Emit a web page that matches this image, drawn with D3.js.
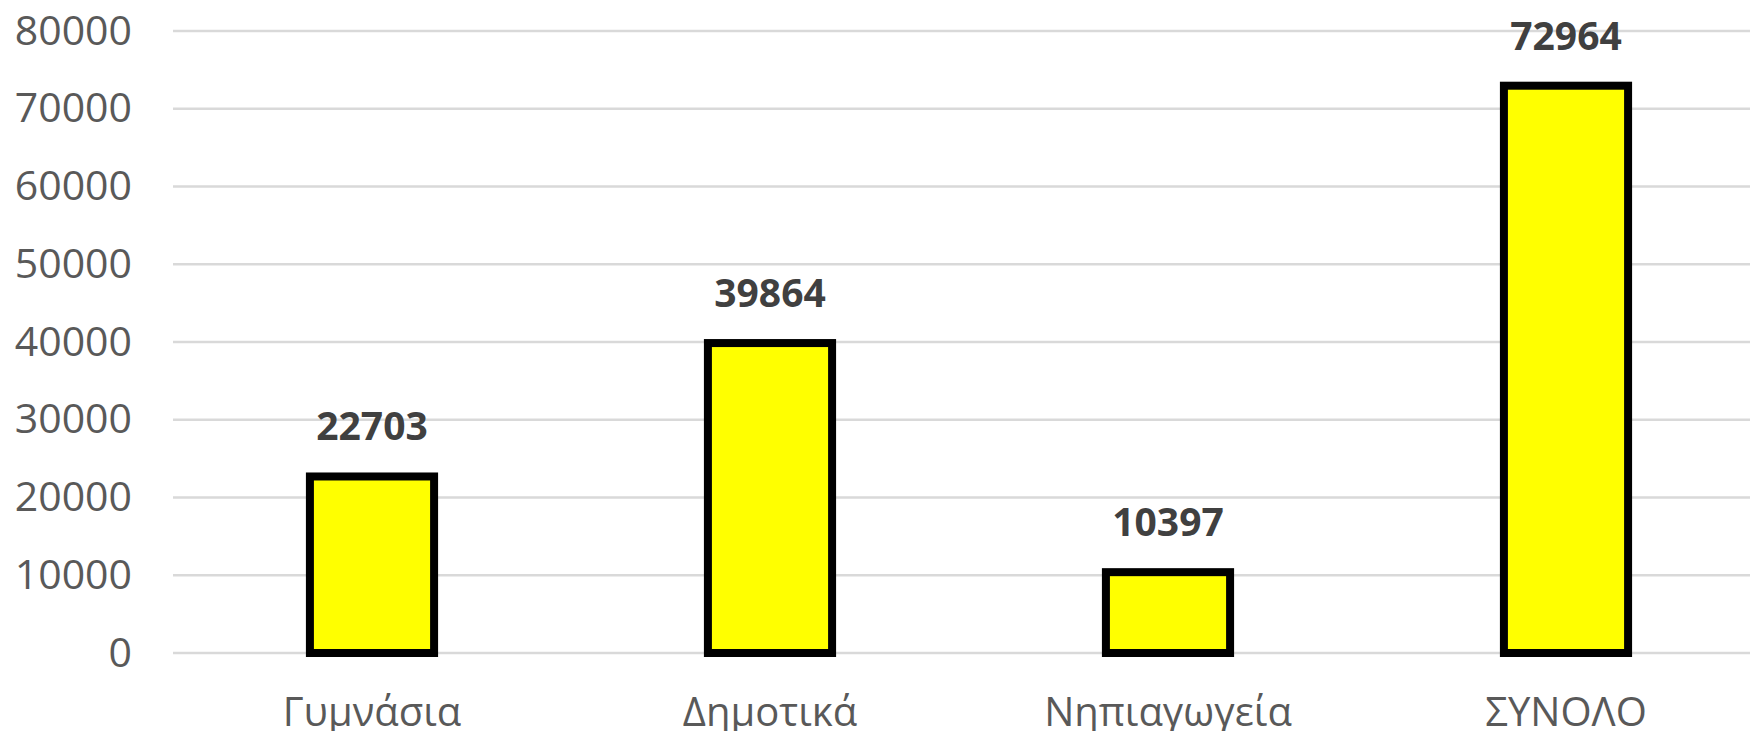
<!DOCTYPE html>
<html>
<head>
<meta charset="utf-8">
<script src="https://cdn.jsdelivr.net/npm/d3@7"></script>
<style>
  body { margin: 0; background: #fff; }
  text { font-family: "Open Sans", "Noto Sans", sans-serif; }
</style>
</head>
<body>
<div id="chart"></div>
<script>
"use strict";

var categories = ["Γυμνάσια", "Δημοτικά", "Νηπιαγωγεία", "ΣΥΝΟΛΟ"];
var values = [22703, 39864, 10397, 72964];
var yTicks = [0, 10000, 20000, 30000, 40000, 50000, 60000, 70000, 80000];

var width = 1750, height = 731;
var margin = {top: 31, right: -15, bottom: 78, left: 173};
var innerW = width - margin.left - margin.right,
    innerH = height - margin.top - margin.bottom;

var svg = d3.select("#chart").append("svg")
    .attr("width", width)
    .attr("height", height);

var g = svg.append("g")
    .attr("transform", "translate(" + margin.left + "," + margin.top + ")");

// scales
var x = d3.scaleBand().domain(categories).range([0, innerW])
    .paddingInner(0.688).paddingOuter(0.344);
var y = d3.scaleLinear().domain([0, 80000]).range([innerH, 0]);

// gridlines
g.selectAll("line.grid")
    .data(yTicks)
  .enter().append("line")
    .attr("class", "grid")
    .attr("x1", 0)
    .attr("x2", innerW)
    .attr("y1", function(d) { return y(d); })
    .attr("y2", function(d) { return y(d); })
    .attr("stroke", "#d9d9d9")
    .attr("stroke-width", 2.5);

// y axis labels
var yAxis = g.append("g")
    .call(d3.axisLeft(y).tickValues(yTicks).tickSize(0).tickPadding(41).tickFormat(d3.format("d")));
yAxis.select(".domain").remove();
yAxis.selectAll("text")
    .attr("fill", "#595959")
    .style("font-size", "41px");

// bars
g.selectAll("rect.bar")
    .data(values)
  .enter().append("rect")
    .attr("class", "bar")
    .attr("x", function(d, i) { return x(categories[i]); })
    .attr("y", function(d) { return y(d); })
    .attr("width", x.bandwidth())
    .attr("height", function(d) { return innerH - y(d); })
    .attr("fill", "#ffff00")
    .attr("stroke", "#000")
    .attr("stroke-width", 8);

// value labels
g.selectAll("text.value")
    .data(values)
  .enter().append("text")
    .attr("class", "value")
    .attr("x", function(d, i) { return x(categories[i]) + x.bandwidth() / 2; })
    .attr("y", function(d) { return y(d) - 36; })
    .attr("text-anchor", "middle")
    .attr("fill", "#404040")
    .style("font-size", "39px")
    .style("font-weight", "bold")
    .text(function(d) { return d; });

// x axis labels
var xAxis = g.append("g")
    .attr("transform", "translate(0," + innerH + ")")
    .call(d3.axisBottom(x).tickSize(0).tickPadding(45));
xAxis.select(".domain").remove();
xAxis.selectAll("text")
    .attr("fill", "#595959")
    .style("font-size", "40px");
</script>
</body>
</html>
